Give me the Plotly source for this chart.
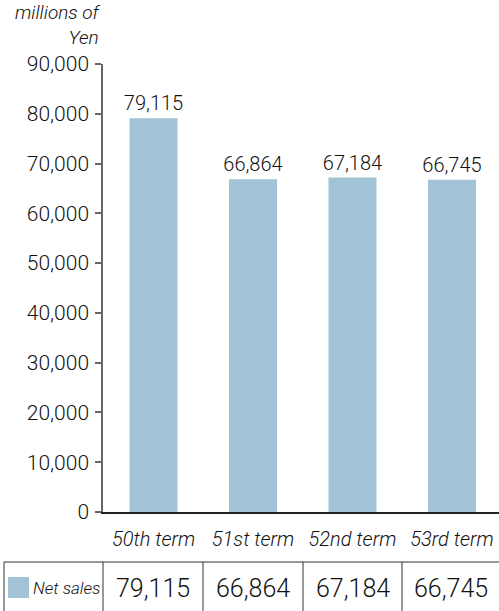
import plotly.graph_objects as go

categories = ["50th term", "51st term", "52nd term", "53rd term"]
net_sales = [79115, 66864, 67184, 66745]
series_name = "Net sales"
y_ticks = [0, 10000, 20000, 30000, 40000, 50000, 60000, 70000, 80000, 90000]
unit_label = "millions of<br>Yen"

W, H = 499, 611
BAR_COLOR = "#a2c3d6"
FONT = "Roboto"
WEIGHT = 300

fig = go.Figure()
fig.add_trace(go.Bar(
    x=categories, y=net_sales, name=series_name,
    marker=dict(color=BAR_COLOR, line=dict(width=0)),
    width=0.483,
    text=[f"{v:,}" for v in net_sales],
    textposition="outside",
    textfont=dict(family=FONT, size=20, color="#111", weight=WEIGHT),
    constraintext="none",
    cliponaxis=False,
    showlegend=False,
))

# table geometry in pixels (converted to paper coords)
ml, mr, mt, mb = 103, 0, 64, 99
pw, ph = W - ml - mr, H - mt - mb

def px(x):
    return (x - ml) / pw

def py(y):
    return (H - mb - y) / ph

shapes = []
line_col = "#333333"
table_top = 562
shapes.append(dict(type="line", xref="paper", yref="paper",
                   x0=px(4), x1=px(499), y0=py(table_top), y1=py(table_top),
                   line=dict(color=line_col, width=1)))
col_edges = [4, 103, 203, 303, 402]
for xe in col_edges:
    shapes.append(dict(type="line", xref="paper", yref="paper",
                       x0=px(xe), x1=px(xe), y0=py(table_top), y1=py(H + 5),
                       line=dict(color=line_col, width=1)))
# legend swatch
shapes.append(dict(type="rect", xref="paper", yref="paper",
                   x0=px(8), x1=px(29), y0=py(598), y1=py(577),
                   fillcolor=BAR_COLOR, line=dict(width=0)))

annotations = []
row_y = 588
annotations.append(dict(xref="paper", yref="paper", x=px(31), y=py(row_y),
                        xanchor="left", yanchor="middle", showarrow=False,
                        text=f"<i>{series_name}</i>",
                        font=dict(family=FONT, size=17, color="#111", weight=WEIGHT)))
cell_centers = [153, 253, 352.5, 450.5]
for cx, v in zip(cell_centers, net_sales):
    annotations.append(dict(xref="paper", yref="paper", x=px(cx), y=py(row_y),
                            xanchor="center", yanchor="middle", showarrow=False,
                            text=f"{v:,}",
                            font=dict(family=FONT, size=25, color="#111", weight=WEIGHT)))
# unit label
annotations.append(dict(xref="paper", yref="paper", x=px(103), y=py(25),
                        xanchor="right", yanchor="middle", showarrow=False,
                        align="right", text=f"<i>{unit_label}</i>",
                        font=dict(family=FONT, size=19, color="#111", weight=WEIGHT)))

fig.update_layout(
    width=W, height=H, autosize=False,
    margin=dict(l=ml, r=mr, t=mt, b=mb, pad=0),
    plot_bgcolor="white", paper_bgcolor="white",
    shapes=shapes, annotations=annotations,
    font=dict(family=FONT, color="#111", weight=WEIGHT),
)
fig.update_xaxes(
    range=[-0.508, 3.473], showline=True, linecolor="#222", linewidth=1.5,
    ticks="", showgrid=False, zeroline=False,
    tickfont=dict(family=FONT, size=20, color="#111", weight=WEIGHT),
    ticktext=[f"<i>{c}</i>" for c in categories], tickvals=categories,
    ticklabelstandoff=8,
)
fig.update_yaxes(
    range=[0, 90000], tickvals=y_ticks, tickformat=",",
    showline=True, linecolor="#666", linewidth=1.5,
    ticks="outside", ticklen=6, tickcolor="#666", tickwidth=1.5,
    showgrid=False, zeroline=False,
    tickfont=dict(family=FONT, size=21, color="#111", weight=WEIGHT),
    ticklabelstandoff=2,
)

fig.write_html("out.html")
